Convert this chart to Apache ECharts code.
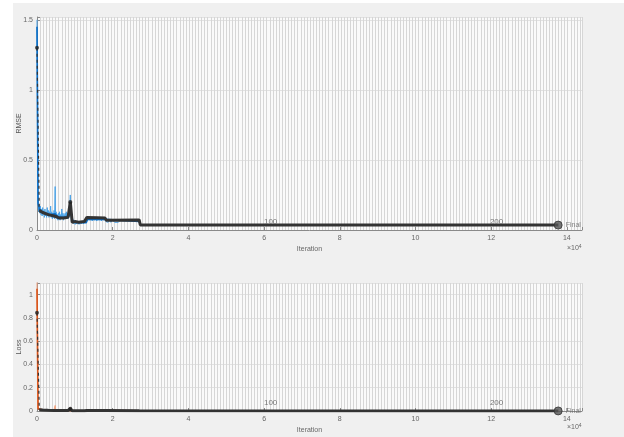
<!DOCTYPE html>
<html><head><meta charset="utf-8">
<script src="https://cdn.jsdelivr.net/npm/echarts@6/dist/echarts.min.js"></script>
<style>
html,body{margin:0;padding:0;background:#fff;}
#bg{position:absolute;left:13px;top:3px;width:611px;height:434px;background:#f0f0f0;}
#chart{position:absolute;left:0;top:0;width:624px;height:437px;}
</style></head><body>
<div id="bg"></div><div id="chart"></div>
<script>
// ---- data (iterations) ----
const trainIter = [0,150,300,450,600,750,900,1050,1200,1350,1500,1650,1800,1950,2100,2250,2400,2550,2700,2850,3000,3150,3300,3450,3600,3750,3900,4050,4200,4350,4500,4650,4800,4900,5050,5200,5350,5500,5650,5800,5950,6100,6250,6400,6550,6700,6850,7000,7150,7300,7450,7600,7750,7900,8050,8200,8350,8500,8650,8800,8950,9100,9300,9500,9700,9900,10100,10300,10500,10800,11100,11400,11700,12000,12300,12600,12900,13200,13400,13700,14000,14300,14600,14900,15200,15500,15800,16100,16400,16700,17000,17300,17600,17900,18200,18500,18800,19100,19500,20000,20500,21000,21500,22000,22500,23000,23500,24000,24500,25000,25500,26000,26500,27000,27300,40000,60000,80000,100000,120000,137700];
const trainRMSE = [1.50,0.22,0.17,0.13,0.16,0.12,0.17,0.11,0.15,0.10,0.16,0.11,0.14,0.09,0.15,0.10,0.13,0.09,0.16,0.10,0.14,0.09,0.13,0.10,0.17,0.09,0.13,0.08,0.12,0.09,0.14,0.08,0.31,0.09,0.13,0.08,0.11,0.07,0.12,0.08,0.13,0.07,0.11,0.08,0.15,0.08,0.12,0.07,0.11,0.08,0.12,0.08,0.13,0.09,0.12,0.08,0.14,0.10,0.17,0.25,0.12,0.06,0.05,0.065,0.045,0.06,0.04,0.065,0.045,0.06,0.04,0.06,0.045,0.065,0.045,0.06,0.05,0.09,0.07,0.095,0.07,0.09,0.065,0.09,0.07,0.088,0.065,0.09,0.07,0.085,0.065,0.088,0.07,0.085,0.06,0.07,0.055,0.07,0.055,0.07,0.055,0.068,0.055,0.07,0.056,0.068,0.055,0.07,0.056,0.068,0.055,0.07,0.056,0.065,0.035,0.034,0.035,0.034,0.035,0.034,0.035];
const lossIter = [0,150,300,450,600,750,900,1050,1200,1350,1500,1650,1800,1950,2100,2250,2400,2550,2700,2850,3000,3150,3300,3450,3600,3750,3900,4050,4200,4350,4500,4650,4800,4900,5050,5200,5350,5500,5650,5800,5950,6100,6250,6400,6550,6700,6850,7000,7150,7300,7450,7600,7750,7900,8050,8200,8350,8500,8650,8800,8950,9100,9300,11000,13200,15000,18200,22000,27000,27300,60000,100000,137700];
const trainLoss = [1.125,0.0242,0.0145,0.0085,0.0128,0.0072,0.0145,0.006,0.0113,0.005,0.0128,0.006,0.0098,0.004,0.0113,0.005,0.0085,0.004,0.0128,0.005,0.0098,0.004,0.0085,0.005,0.0145,0.004,0.0085,0.0032,0.0072,0.004,0.0098,0.0032,0.048,0.004,0.0085,0.0032,0.006,0.0025,0.0072,0.0032,0.0085,0.0025,0.006,0.0032,0.0113,0.0032,0.0072,0.0025,0.006,0.0032,0.0072,0.0032,0.0085,0.004,0.0072,0.0032,0.0098,0.005,0.0145,0.031,0.0072,0.0018,0.0013,0.0015,0.004,0.0035,0.0025,0.0022,0.002,0.0006,0.0006,0.0006,0.0006];
const smoothIter = [0,300,800,2000,3500,4800,5500,7000,8500,8900,9400,10500,13000,13400,18000,18500,27000,27400,137700];
const smoothRMSE = [1.45,0.19,0.13,0.12,0.11,0.115,0.095,0.09,0.10,0.14,0.07,0.052,0.052,0.077,0.076,0.062,0.061,0.036,0.035];
const smoothLoss = [1.05,0.018,0.0085,0.0072,0.006,0.0066,0.0045,0.004,0.005,0.0098,0.0025,0.0014,0.0014,0.003,0.0029,0.0019,0.0019,0.0006,0.0006];
const valIter = [0,600,1500,3000,4500,5200,5800,7000,8200,8800,9300,10000,11000,11500,12500,13200,16000,18000,18300,27000,27300,137700];
const valRMSE = [1.30,0.14,0.125,0.11,0.10,0.095,0.085,0.085,0.09,0.20,0.055,0.06,0.055,0.065,0.06,0.09,0.088,0.085,0.07,0.072,0.036,0.035];
const valLoss = [0.845,0.0098,0.0078,0.006,0.005,0.0045,0.0036,0.0036,0.004,0.02,0.0015,0.0018,0.0015,0.0021,0.0018,0.004,0.0039,0.0036,0.0025,0.0026,0.00065,0.0006];
const valMarkIdx = [0, 9];
const xTickLabels = ['0','2','4','6','8','10','12','14'];
const epochLabels = ['100','200'];
const epochIter = [59700, 119400];

const pairs = (xs, ys) => xs.map((x,i)=>[x, ys[i]]);
const XMAX = 144000, XSTEP = 20000, EPOCH_LINE = 820;
const FONT = 'Liberation Sans, Arial, sans-serif';
const lab = {color:'#666', fontSize:7, fontFamily:FONT};
const chart = echarts.init(document.getElementById('chart'), null, {renderer:'canvas'});

function xAxes(gi){
  return [
    {type:'value', gridIndex:gi, min:0, max:XMAX, interval:XSTEP,
     axisLine:{show:true, lineStyle:{color:'#8a8a8a', width:1}},
     axisTick:{show:true, inside:true, length:3, lineStyle:{color:'#8a8a8a'}},
     axisLabel:Object.assign({margin:5, formatter:v => (v % XSTEP === 0 && v/XSTEP < xTickLabels.length) ? xTickLabels[v/XSTEP] : ''}, lab),
     splitLine:{show:false},
     name:'Iteration', nameLocation:'middle', nameGap:16, nameMoveOverlap:false,
     nameTextStyle:{color:'#666', fontSize:7, fontFamily:FONT}},
    {type:'value', gridIndex:gi, min:0, max:XMAX, interval:EPOCH_LINE, position:'bottom',
     axisLine:{show:false}, axisTick:{show:false}, axisLabel:{show:false},
     splitLine:{show:true, lineStyle:{color:'#d6d6d6', width:1}}}
  ];
}
function yAxis(gi, max, step, name){
  return {type:'value', gridIndex:gi, min:0, max:max, interval:step,
    axisLine:{show:true, lineStyle:{color:'#8a8a8a', width:1}},
    axisTick:{show:true, inside:true, length:3, lineStyle:{color:'#8a8a8a'}},
    axisLabel:Object.assign({margin:4, formatter:v => {
      const k = v/step; return Math.abs(k-Math.round(k))<1e-6 ? String(Number(v.toFixed(2))) : '';}}, lab),
    splitLine:{show:true, lineStyle:{color:'#e2e2e2', width:1}},
    name:name, nameLocation:'middle', nameGap:14, nameMoveOverlap:false,
    nameTextStyle:{color:'#555', fontSize:7, fontFamily:FONT}};
}
function panelSeries(xi, yi, rawIter, raw, smooth, val, rawColor, smoothColor){
  const valPts = pairs(valIter, val);
  const finalPt = valPts[valPts.length-1];
  return [
    {type:'line', xAxisIndex:xi, yAxisIndex:yi, data:pairs(rawIter, raw), showSymbol:false, symbol:'none',
     lineStyle:{color:rawColor, width:1}, animation:false, z:2},
    {type:'line', xAxisIndex:xi, yAxisIndex:yi, data:pairs(smoothIter, smooth), showSymbol:false, symbol:'none',
     lineStyle:{color:smoothColor, width:1.6}, animation:false, z:3},
    {type:'line', xAxisIndex:xi, yAxisIndex:yi, data:valPts.slice(0,2), showSymbol:false, symbol:'none',
     lineStyle:{color:'#333', width:1.2, type:[3,3]}, animation:false, z:4},
    {type:'line', xAxisIndex:xi, yAxisIndex:yi, data:valPts.slice(1), showSymbol:false, symbol:'none',
     lineStyle:{color:'#333', width:3}, animation:false, z:4,
     markPoint:{symbol:'circle', symbolSize:0, silent:true, animation:false,
       data: epochLabels.map((t,i)=>({coord:[epochIter[i],0], value:t,
         label:{show:true, formatter:t, position:'right', offset:[-4,-8], color:'#777', fontSize:8, fontFamily:FONT}}))}},
    {type:'scatter', xAxisIndex:xi, yAxisIndex:yi, data:valMarkIdx.map(i=>valPts[i]), symbol:'circle', symbolSize:4,
     itemStyle:{color:'#222'}, animation:false, z:5},
    {type:'scatter', xAxisIndex:xi, yAxisIndex:yi, data:[finalPt], symbol:'circle', symbolSize:8,
     itemStyle:{color:'#555', borderColor:'#333', borderWidth:1}, animation:false, z:6,
     label:{show:true, formatter:'Final', position:'right', distance:3, color:'#666', fontSize:7, fontFamily:FONT}}
  ];
}

const option = {
  backgroundColor:'transparent',
  animation:false,
  grid:[
    {left:37, right:42, top:17, height:213, show:true, backgroundColor:'#fafafa', borderWidth:0, outerBoundsMode:'none', containLabel:false},
    {left:37, right:42, top:283, height:128, show:true, backgroundColor:'#fafafa', borderWidth:0, outerBoundsMode:'none', containLabel:false}
  ],
  xAxis:[...xAxes(0), ...xAxes(1)],
  yAxis:[yAxis(0, 1.52, 0.5, 'RMSE'), yAxis(1, 1.1, 0.2, 'Loss')],
  series:[
    ...panelSeries(0, 0, trainIter, trainRMSE, smoothRMSE, valRMSE, '#4aa3e8', '#0a6cc4'),
    ...panelSeries(2, 1, lossIter, trainLoss, smoothLoss, valLoss, '#f2a07c', '#d95319')
  ],
  graphic:[
    {type:'text', left:567, top:244, style:{text:'×10{s|4}', rich:{s:{fontSize:5, verticalAlign:'top', padding:[0,0,4,0]}},
      fill:'#666', font:'7px ' + FONT}},
    {type:'text', left:567, top:423, style:{text:'×10{s|4}', rich:{s:{fontSize:5, verticalAlign:'top', padding:[0,0,4,0]}},
      fill:'#666', font:'7px ' + FONT}}
  ]
};
chart.setOption(option);
</script>
</body></html>
